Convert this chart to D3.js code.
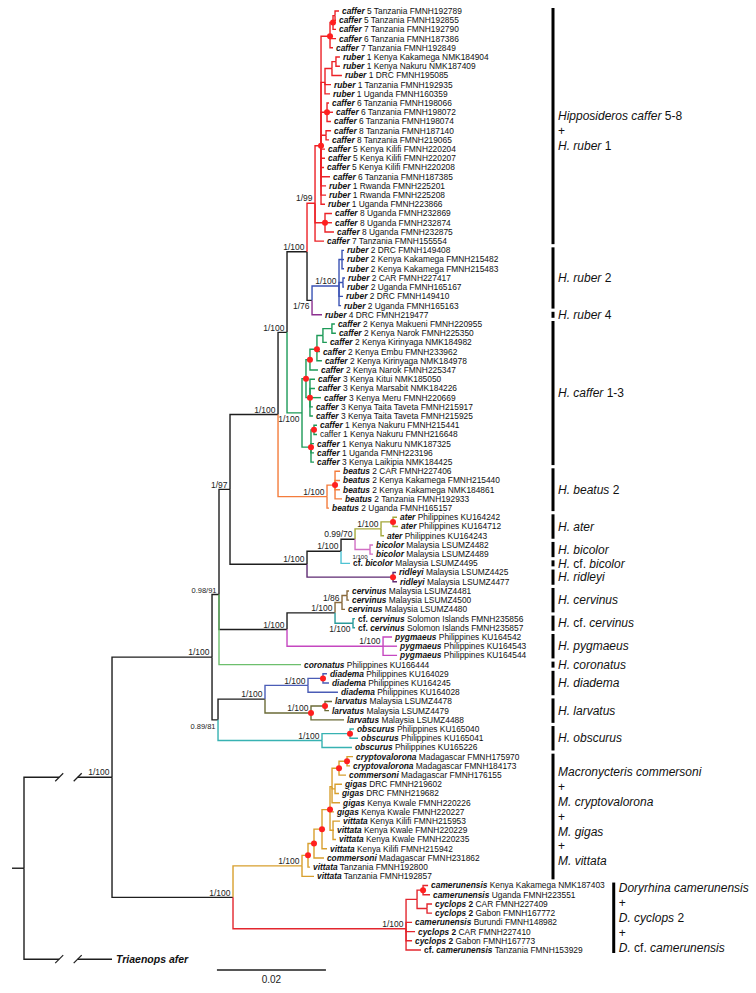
<!DOCTYPE html>
<html><head><meta charset="utf-8">
<script src="https://cdn.jsdelivr.net/npm/d3@7"></script>
<style>
body{margin:0;background:#fff}
svg{display:block}
text{font-family:"Liberation Sans",Arial,Helvetica,sans-serif;white-space:pre}
</style>
</head><body>
<script>
// ---------------- DATA ----------------
// tips: [bold label part (_italic_ marked), remaining text]
const tips = [
 ["_caffer_","5 Tanzania FMNH192789"],["_caffer_","5 Tanzania FMNH192855"],["_caffer_","7 Tanzania FMNH192790"],
 ["_caffer_","6 Tanzania FMNH187386"],["_caffer_","7 Tanzania FMNH192849"],["_ruber_","1 Kenya Kakamega NMK184904"],
 ["_ruber_","1 Kenya Nakuru NMK187409"],["_ruber_","1 DRC FMNH195085"],["_ruber_","1 Tanzania FMNH192935"],
 ["_ruber_","1 Uganda FMNH160359"],["_caffer_","6 Tanzania FMNH198066"],["_caffer_","6 Tanzania FMNH198072"],
 ["_caffer_","6 Tanzania FMNH198074"],["_caffer_","8 Tanzania FMNH187140"],["_caffer_","8 Tanzania FMNH219065"],
 ["_caffer_","5 Kenya Kilifi FMNH220204"],["_caffer_","5 Kenya Kilifi FMNH220207"],["_caffer_","5 Kenya Kilifi FMNH220208"],
 ["_caffer_","6 Tanzania FMNH187385"],["_ruber_","1 Rwanda FMNH225201"],["_ruber_","1 Rwanda FMNH225208"],
 ["_ruber_","1 Uganda FMNH223866"],["_caffer_","8 Uganda FMNH232869"],["_caffer_","8 Uganda FMNH232874"],
 ["_caffer_","8 Uganda FMNH232875"],["_caffer_","7 Tanzania FMNH155554"],["_ruber_","2 DRC FMNH149408"],
 ["_ruber_","2 Kenya Kakamega FMNH215482"],["_ruber_","2 Kenya Kakamega FMNH215483"],["_ruber_","2 CAR FMNH227417"],
 ["_ruber_","2 Uganda FMNH165167"],["_ruber_","2 DRC FMNH149410"],["_ruber_","2 Uganda FMNH165163"],
 ["_ruber_","4 DRC FMNH219477"],["_caffer_","2 Kenya Makueni FMNH220955"],["_caffer_","2 Kenya Narok FMNH225350"],
 ["_caffer_","2 Kenya Kirinyaga NMK184982"],["_caffer_","2 Kenya Embu FMNH233962"],["_caffer_","2 Kenya Kirinyaga NMK184978"],
 ["_caffer_","2 Kenya Narok FMNH225347"],["_caffer_","3 Kenya Kitui NMK185050"],["_caffer_","3 Kenya Marsabit NMK184226"],
 ["_caffer_","3 Kenya Meru FMNH220669"],["_caffer_","3 Kenya Taita Taveta FMNH215917"],["_caffer_","3 Kenya Taita Taveta FMNH215925"],
 ["_caffer_","1 Kenya Nakuru FMNH215441"],["","caffer 1 Kenya Nakuru FMNH216648"],["_caffer_","1 Kenya Nakuru NMK187325"],
 ["_caffer_","1 Uganda FMNH223196"],["_caffer_","3 Kenya Laikipia NMK184425"],["_beatus_","2 CAR FMNH227406"],
 ["_beatus_","2 Kenya Kakamega FMNH215440"],["_beatus_","2 Kenya Kakamega NMK184861"],["_beatus_","2 Tanzania FMNH192933"],
 ["_beatus_","2 Uganda FMNH165157"],["_ater_","Philippines KU164242"],["_ater_","Philippines KU164712"],
 ["_ater_","Philippines KU164243"],["_bicolor_","Malaysia LSUMZ4482"],["_bicolor_","Malaysia LSUMZ4489"],
 ["cf. _bicolor_","Malaysia LSUMZ4495"],["_ridleyi_","Malaysia LSUMZ4425"],["_ridleyi_","Malaysia LSUMZ4477"],
 ["_cervinus_","Malaysia LSUMZ4481"],["_cervinus_","Malaysia LSUMZ4500"],["_cervinus_","Malaysia LSUMZ4480"],
 ["cf. _cervinus_","Solomon Islands FMNH235856"],["cf. _cervinus_","Solomon Islands FMNH235857"],["_pygmaeus_","Philippines KU164542"],
 ["_pygmaeus_","Philippines KU164543"],["_pygmaeus_","Philippines KU164544"],["_coronatus_","Philippines KU166444"],
 ["_diadema_","Philippines KU164029"],["_diadema_","Philippines KU164245"],["_diadema_","Philippines KU164028"],
 ["_larvatus_","Malaysia LSUMZ4478"],["_larvatus_","Malaysia LSUMZ4479"],["_larvatus_","Malaysia LSUMZ4488"],
 ["_obscurus_","Philippines KU165040"],["_obscurus_","Philippines KU165041"],["_obscurus_","Philippines KU165226"],
 ["_cryptovalorona_","Madagascar FMNH175970"],["_cryptovalorona_","Madagascar FMNH184173"],["_commersoni_","Madagascar FMNH176155"],
 ["_gigas_","DRC FMNH219602"],["_gigas_","DRC FMNH219682"],["_gigas_","Kenya Kwale FMNH220226"],
 ["_gigas_","Kenya Kwale FMNH220227"],["_vittata_","Kenya Kilifi FMNH215953"],["_vittata_","Kenya Kwale FMNH220229"],
 ["_vittata_","Kenya Kwale FMNH220235"],["_vittata_","Kenya Kilifi FMNH215942"],["_commersoni_","Madagascar FMNH231862"],
 ["_vittata_","Tanzania FMNH192800"],["_vittata_","Tanzania FMNH192857"],["_camerunensis_","Kenya Kakamega NMK187403"],
 ["_camerunensis_","Uganda FMNH223551"],["_cyclops_ 2","CAR FMNH227409"],["_cyclops_ 2","Gabon FMNH167772"],
 ["_camerunensis_","Burundi FMNH148982"],["_cyclops_ 2","CAR FMNH227410"],["_cyclops_ 2","Gabon FMNH167773"],
 ["cf. _camerunensis_","Tanzania FMNH153929"],["_Triaenops afer_",""]
];

// tree (Newick, leaves = tip numbers, branch lengths in substitutions/site)
const nwG1 = "(((1:0.00073,2:0.00018):0.00037,3:0.00055):0.00055,4:0.0011,5:0.00055)";
const nwG2 = "(((6:0.00073,7:0.00073):0.00073,8:0.00183):0.00128,9:0.0011,10:0.00092)";
const nwG3 = "(11:0.00037,12:0.0011,13:0.00073)";
const nwG4 = "(14:0.00092,15:0.00055)";
const nwU1 = `(${nwG1}:0.00165,${nwG2}:0.00073,${nwG3}:0.0011,${nwG4}:0.00092,16:0.00073,17:0.00073,18:0.00055,19:0.00165,20:0.00092,21:0.00092,22:0.00073)`;
const nwCaffer58 = `(${nwU1}:0.0011,(23:0.00128,24:0.00128,25:0.00165):0.00183,26:0.00165)`;
const nwRuber24 = "(((27:0.00037,28:0.00037,29:0.00037):0.00055,(30:0.00037,31:0.00018):0.00073,32:0.00073,33:0.00037):0.00495,34:0.00183)";
const nwCaffer2 = "((((35:0.00055,36:0.00073):0.00165,37:0.00073):0.0011,38:0.00055,39:0.00092):0.00128,40:0.00147)";
const nwCaffer3 = "(41:0.00092,42:0.00092,43:0.00202,44:0.00055,45:0.00055)";
const nwCaffer1 = "((46:0.00055,47:0.00055):0.00055,48:0.00055,49:0.00055,50:0.00055)";
const nwCaffer13 = `((${nwCaffer2}:0.00073,${nwCaffer3}:0.00073):0.00073,${nwCaffer1}:0.00165)`;
const nwBeatus = "((51:0.00092,52:0.00092,53:0.00092,54:0.00128):0.00147,55:0.00037)";
const nwAterRidleyi = "(((((56:0.00073,57:0.00092):0.0022,58:0.00055):0.00477,(59:0.00055,60:0.00055):0.00275):0.00257,61:0.00165):0.00624,(62:0.00055,63:0.00073):0.01578)";
const nwCervPyg = "((((64:0.00037,65:0.00037):0.00092,66:0.00055):0.00128,(67:0.00037,68:0.00037):0.0033):0.00881,(69:0.00165,70:0.00257,71:0.00257):0.01762)";
const nwDiadLarvObsc = "((((73:0.00073,74:0.0011):0.00275,75:0.0055):0.00789,((76:0.00128,77:0.00073):0.00257,78:0.00606):0.00844):0.00862,((79:0.00073,80:0.00147):0.00514,81:0.0055):0.01908)";
const nwMacroCore = "(((82:0.0011,83:0.00055):0.00147,84:0.00128):0.00128,(85:0.00128,86:0.00073):0.00055,87:0.00147)";
const nwMacro = `(((((${nwMacroCore}:0.00037,88:0.00073,(89:0.00128,90:0.00018,91:0.00055):0.00055):0.00147,92:0.00092):0.00147,93:0.00183):0.0011,94:0.00037):0.0011,95:0.0022)`;
const nwDory = "(((96:0.00092,97:0.00128):0.0011,(98:0.00092,99:0.00092):0.00183):0.00202,100:0.0011,101:0.00165,102:0.0011,103:0.00275)";
const nwAfrAsia = `((((((${nwCaffer58}:0.00147,${nwRuber24}:0.00092):0.00367,${nwCaffer13}:0.00275):0.00165,${nwBeatus}:0.00899):0.00881,${nwAterRidleyi}:0.01413):0.00202,${nwCervPyg}:0.01248,72:0.01505):0.00128,${nwDiadLarvObsc}:0.0011)`;
const nwTree = `((${nwAfrAsia}:0.01835,(${nwMacro}:0.01266,${nwDory}:0.03175):0.0222):0.01615,104:0.01615);`;

// node support (posterior/bootstrap), node = [first tip, last tip]
const supports = [
 [1,103,"1/100"],[1,81,"1/100"],[1,72,"0.98/91"],[73,81,"0.89/81"],[1,63,"1/97"],[1,55,"1/100"],
 [1,50,"1/100"],[1,34,"1/100"],[1,26,"1/99"],[27,34,"1/76"],[27,33,"1/100"],[35,50,"1/100"],
 [51,55,"1/100"],[56,63,"1/100"],[56,61,"1/100"],[56,60,"0.99/70"],[56,58,"1/100"],[59,60,"1/100"],
 [64,71,"1/100"],[64,68,"1/100"],[64,66,"1/86"],[67,68,"1/100"],[69,71,"1/100"],[73,78,"1/100"],
 [73,75,"1/100"],[76,78,"1/100"],[79,81,"1/100"],[82,103,"1/100"],[82,95,"1/100"],[96,103,"1/100"]
];
// strongly supported intra-clade nodes (red dots)
const dotted = [[1,5],[1,3],[1,22],[11,13],[23,25],[35,45],[35,40],[35,39],[41,45],[46,50],[46,47],
 [51,54],[56,57],[62,63],[73,74],[76,78],[76,77],[79,80],[82,84],[82,83],[82,91],[82,92],[82,93],[82,94],[96,97]];
// truncated branches
const brokenBranches = [[1,103],[104,104]];
// clade labels
const cladeBars = [
 [1,26,["_Hipposideros caffer_ 5-8","+","_H. ruber_ 1"]],
 [27,33,["_H. ruber_ 2"]],[34,34,["_H. ruber_ 4"]],[35,50,["_H. caffer_ 1-3"]],[51,55,["_H. beatus_ 2"]],
 [56,58,["_H. ater_"]],[59,60,["_H. bicolor_"]],[61,61,["_H._ cf. _bicolor_"]],[62,63,["_H. ridleyi_"]],
 [64,66,["_H. cervinus_"]],[67,68,["_H._ cf. _cervinus_"]],[69,71,["_H. pygmaeus_"]],[72,72,["_H. coronatus_"]],
 [73,75,["_H. diadema_"]],[76,78,["_H. larvatus_"]],[79,81,["_H. obscurus_"]],
 [82,95,["_Macronycteris commersoni_","+","_M. cryptovalorona_","+","_M. gigas_","+","_M. vittata_"]],
 [96,103,["_Doryrhina camerunensis_","+","_D. cyclops_ 2","+","_D._ cf. _camerunensis_"]]
];
const scaleBarLength = 0.02;

// ---------------- STYLE ----------------
const cladeColors = [
 [1,26,"#ec2227"],[27,33,"#3a52b4"],[34,34,"#8c2f8f"],[35,50,"#1d9a58"],[51,55,"#f47c3c"],
 [56,58,"#a4a83a"],[59,60,"#d16fc4"],[61,61,"#4ec3d3"],[62,63,"#5e2a72"],[64,66,"#8a6a3c"],
 [67,68,"#2a9b9b"],[69,71,"#c547c0"],[72,72,"#6dbf6d"],[73,75,"#4a5cb6"],[76,78,"#6b6b37"],
 [79,81,"#37b2b2"],[82,95,"#d89f2e"],[96,103,"#e3262e"]
];
const supportBelow = ["73-81","27-34","35-50","59-60","67-68"];
const supportSize = {"1-72":7.5,"73-81":7.5,"59-60":6};
const BLACK = "#1e1e1e";

// ---------------- DRAW ----------------
function parseNewick(s){
  let i=0;
  function node(){
    const n={};
    if(s[i]==="("){
      n.children=[]; i++;
      n.children.push(node());
      while(s[i]===","){ i++; n.children.push(node()); }
      i++;
    }
    let name=""; while(i<s.length && !":,();".includes(s[i])) name+=s[i++];
    n.name=name;
    n.length=0;
    if(s[i]===":"){ i++; let num=""; while(i<s.length && !",();".includes(s[i])) num+=s[i++]; n.length=+num; }
    return n;
  }
  return node();
}

const W=756,H=993;
const svg=d3.select("body").append("svg").attr("width",W).attr("height",H);
svg.append("rect").attr("width",W).attr("height",H).attr("fill","#fff");

const x=d3.scaleLinear().domain([0,0.02]).range([24,133]);
const y=d3.scaleLinear().domain([1,tips.length]).range([11,959.2]);

const root=d3.hierarchy(parseNewick(nwTree));
root.eachBefore(d=>{ d.dist = d.parent ? d.parent.dist + d.data.length : 0; });
root.eachAfter(d=>{
  if(!d.children){ d.lo=d.hi=+d.data.name; d.py=y(d.lo); }
  else { d.lo=d3.min(d.children,c=>c.lo); d.hi=d3.max(d.children,c=>c.hi); d.py=d3.mean(d.children,c=>c.py); }
  d.px=x(d.dist);
});
const key=d=>d.lo+"-"+d.hi;
const nodeByKey=new Map(); root.each(d=>nodeByKey.set(key(d),d));
function colorOf(d){
  let best=null;
  for(const c of cladeColors) if(c[0]<=d.lo && d.hi<=c[1]) if(!best || c[1]-c[0] < best[1]-best[0]) best=c;
  return best?best[2]:BLACK;
}
const brokenSet=new Set(brokenBranches.map(b=>b[0]+"-"+b[1]));

const gLinks=svg.append("g").attr("fill","none").attr("stroke-width",1.4);
// root stub
gLinks.append("line").attr("x1",x(-0.0022)).attr("x2",root.px).attr("y1",root.py).attr("y2",root.py).attr("stroke",BLACK);
const links=root.links().sort((a,b)=>(colorOf(a.target)===BLACK?0:1)-(colorOf(b.target)===BLACK?0:1));
links.forEach(l=>{
  const p=l.source,c=l.target,col=colorOf(c);
  if(brokenSet.has(key(c))){
    const xa=p.px+(c.px-p.px)*0.4, xb=p.px+(c.px-p.px)*0.61;
    gLinks.append("path").attr("stroke",col).attr("d",`M${p.px},${p.py}V${c.py}H${xa}`);
    gLinks.append("path").attr("stroke",col).attr("d",`M${xb},${c.py}H${c.px}`);
    [xa,xb].forEach(xx=>gLinks.append("line").attr("stroke",col).attr("stroke-width",1.2)
      .attr("x1",xx-4).attr("y1",c.py+4).attr("x2",xx+4).attr("y2",c.py-4));
  } else {
    gLinks.append("path").attr("stroke",col).attr("d",`M${p.px},${p.py}V${c.py}H${c.px}`);
  }
});

// red dots
svg.append("g").selectAll("circle").data(dotted.map(d=>nodeByKey.get(d[0]+"-"+d[1])).filter(Boolean))
  .join("circle").attr("cx",d=>d.px).attr("cy",d=>d.py).attr("r",3).attr("fill","#ff1f1f");

// supports
const gSup=svg.append("g").attr("fill","#222");
supports.forEach(s=>{
  const k=s[0]+"-"+s[1], n=nodeByKey.get(k); if(!n) return;
  const below=supportBelow.includes(k);
  gSup.append("text").attr("x",n.px-2.5).attr("y",below?n.py+9:n.py-1.8)
    .attr("text-anchor","end").attr("font-size",supportSize[k]||8.5).text(s[2]);
});

function rich(t,str){
  str.split("_").forEach((seg,i)=>{ if(seg) t.append("tspan").attr("font-style",i%2?"italic":"normal").text(seg); });
}
// tip labels
const gTip=svg.append("g").attr("fill","#111");
const tipEnds={};
root.leaves().forEach(d=>{
  const tp=tips[d.lo-1], out=d.lo===tips.length;
  const t=gTip.append("text").attr("x",d.px+(out?4:3)).attr("y",d.py).attr("dy","0.35em")
    .attr("font-size",out?10.5:8.4);
  if(tp[0]){ const b=t.append("tspan").attr("font-weight","bold"); rich(b,tp[0]); }
  if(tp[1]) t.append("tspan").text((tp[0]?" ":"")+tp[1]);
  tipEnds[d.lo]=d.px+3+t.node().getComputedTextLength();
});

// clade bars
const gBar=svg.append("g");
cladeBars.forEach(([a,b,lines])=>{
  let maxEnd=0; for(let i=a;i<=b;i++) maxEnd=Math.max(maxEnd,tipEnds[i]);
  const bx=Math.max(553,maxEnd+9);
  const y0=y(a)-3,y1=y(b)+3;
  gBar.append("rect").attr("x",bx-1.5).attr("y",y0).attr("width",3).attr("height",y1-y0).attr("fill","#000");
  const lh=a===1?15:14.8, shift=a===1?5:0;
  const mid=(y0+y1)/2+shift;
  lines.forEach((ln,i)=>{
    const t=gBar.append("text").attr("x",bx+5).attr("y",mid+(i-(lines.length-1)/2)*lh).attr("dy","0.35em")
      .attr("font-size",12).attr("fill","#111");
    rich(t,ln);
  });
});

// scale bar
const sbStart=0.0354, sbY=970;
svg.append("line").attr("x1",x(sbStart)).attr("x2",x(sbStart+scaleBarLength)).attr("y1",sbY).attr("y2",sbY)
  .attr("stroke",BLACK).attr("stroke-width",1.4);
svg.append("text").attr("x",(x(sbStart)+x(sbStart+scaleBarLength))/2).attr("y",sbY+12.5)
  .attr("text-anchor","middle").attr("font-size",10).attr("fill","#222").text(String(scaleBarLength));
</script>
</body></html>
